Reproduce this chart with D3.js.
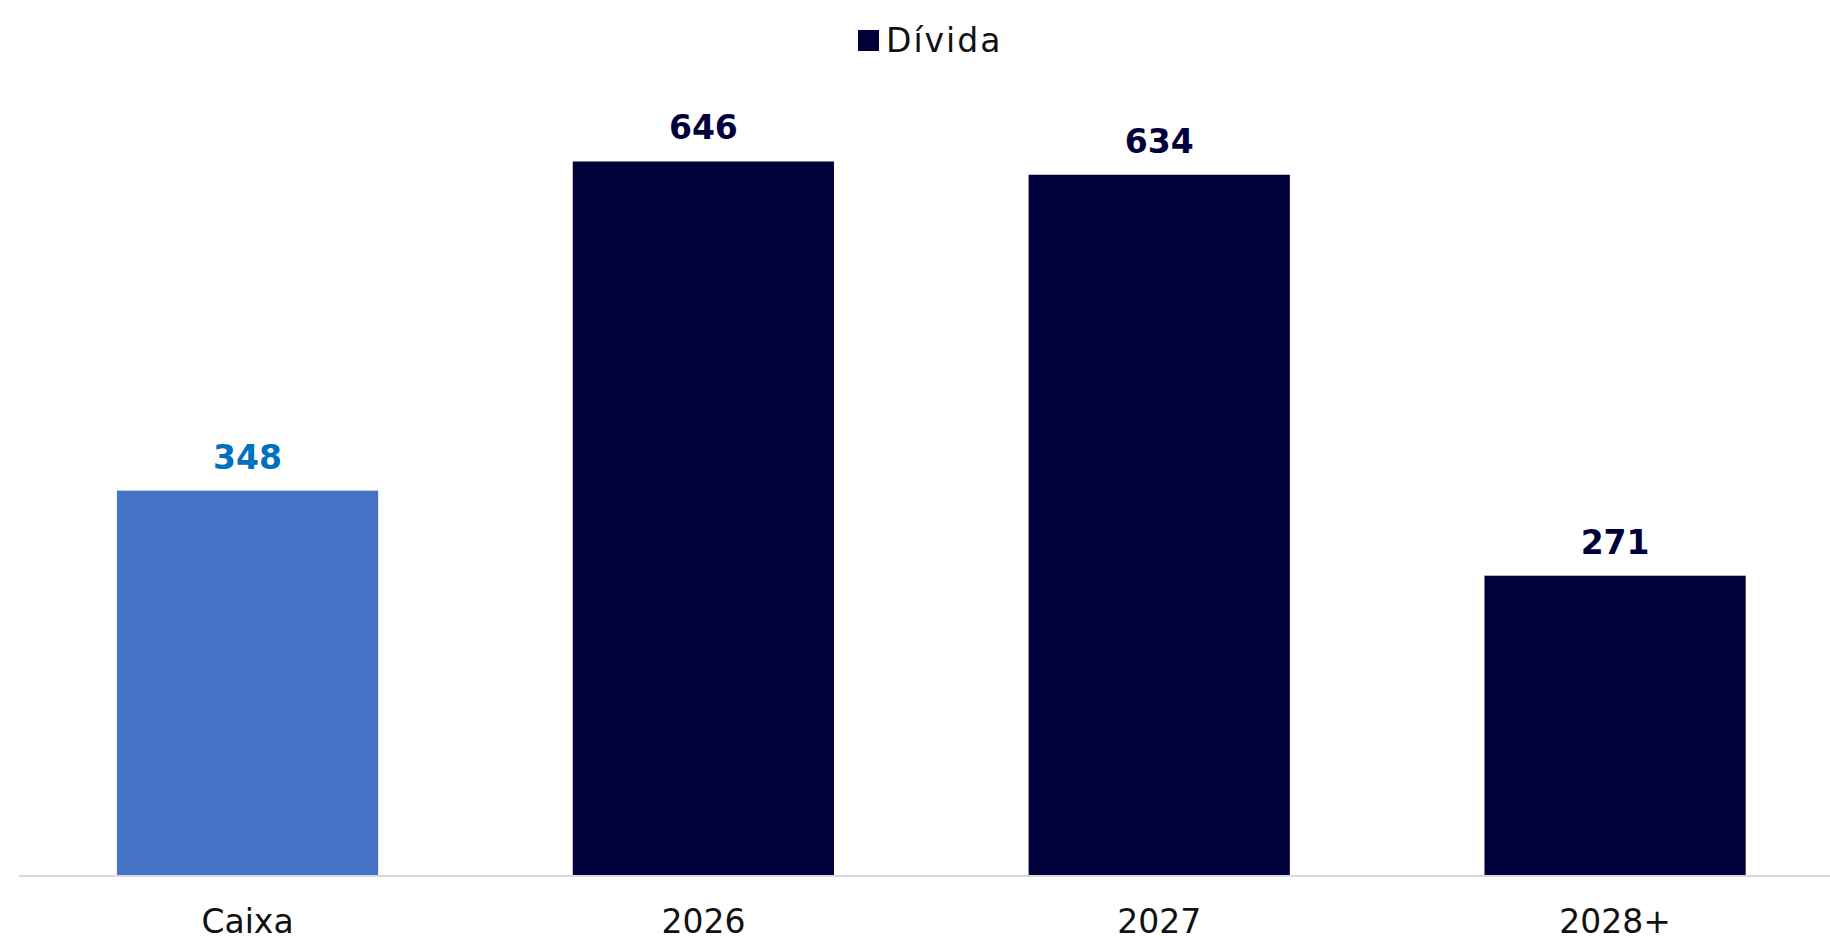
<!DOCTYPE html>
<html>
<head>
<meta charset="utf-8">
<script src="https://cdn.jsdelivr.net/npm/d3@7"></script>
<style>
  html, body { margin: 0; padding: 0; background: #fff; }
  svg { display: block; }
  text { font-family: "DejaVu Sans", "Noto Sans", sans-serif; }
</style>
</head>
<body>
<svg id="chart" width="1830" height="941"></svg>
<script>
// Debt maturity schedule vs. cash on hand
const categories = ["Caixa", "2026", "2027", "2028+"];
const values = [348, 646, 634, 271];
const barColors = ["#4472C4", "#00003A", "#00003A", "#00003A"];
const labelColors = ["#0070C0", "#00003A", "#00003A", "#00003A"];
const legendLabel = "Dívida";

const W = 1830, H = 941;
const baseline = 875;
const svg = d3.select("#chart");

const x = d3.scaleBand()
  .domain(categories)
  .range([19.6, 1843])
  .paddingInner(0.427)
  .paddingOuter(0.2135);

const y = d3.scaleLinear()
  .domain([0, 700])
  .range([baseline, baseline - 700 * 1.1045]);

// Bars
svg.append("g").selectAll("rect")
  .data(categories)
  .join("rect")
  .attr("x", d => x(d))
  .attr("width", x.bandwidth())
  .attr("y", (d, i) => y(values[i]))
  .attr("height", (d, i) => y(0) - y(values[i]))
  .attr("fill", (d, i) => barColors[i]);

// Baseline
svg.append("line")
  .attr("x1", 19).attr("x2", W)
  .attr("y1", baseline + 1).attr("y2", baseline + 1)
  .attr("stroke", "#d9d9d9")
  .attr("stroke-width", 2);

// Value labels
svg.append("g").selectAll("text")
  .data(categories)
  .join("text")
  .attr("x", d => x(d) + x.bandwidth() / 2)
  .attr("y", (d, i) => y(values[i]) - 22)
  .attr("text-anchor", "middle")
  .attr("font-size", 33)
  .attr("font-weight", 700)
  .attr("fill", (d, i) => labelColors[i])
  .text((d, i) => values[i]);

// Category axis
const xAxis = svg.append("g")
  .attr("transform", `translate(0,${baseline})`)
  .call(d3.axisBottom(x).tickSize(0).tickPadding(0));
xAxis.select(".domain").remove();
xAxis.selectAll("text")
  .attr("y", 58)
  .attr("dy", 0)
  .attr("font-size", 33)
  .attr("font-family", "\"DejaVu Sans\", sans-serif")
  .attr("fill", "#111");

// Legend
const legend = svg.append("g");
legend.append("rect")
  .attr("x", 858).attr("y", 30)
  .attr("width", 21).attr("height", 21)
  .attr("fill", "#00003A");
legend.append("text")
  .attr("x", 886).attr("y", 52)
  .attr("font-size", 33)
  .attr("letter-spacing", 2)
  .attr("fill", "#111")
  .text(legendLabel);
</script>
</body>
</html>
